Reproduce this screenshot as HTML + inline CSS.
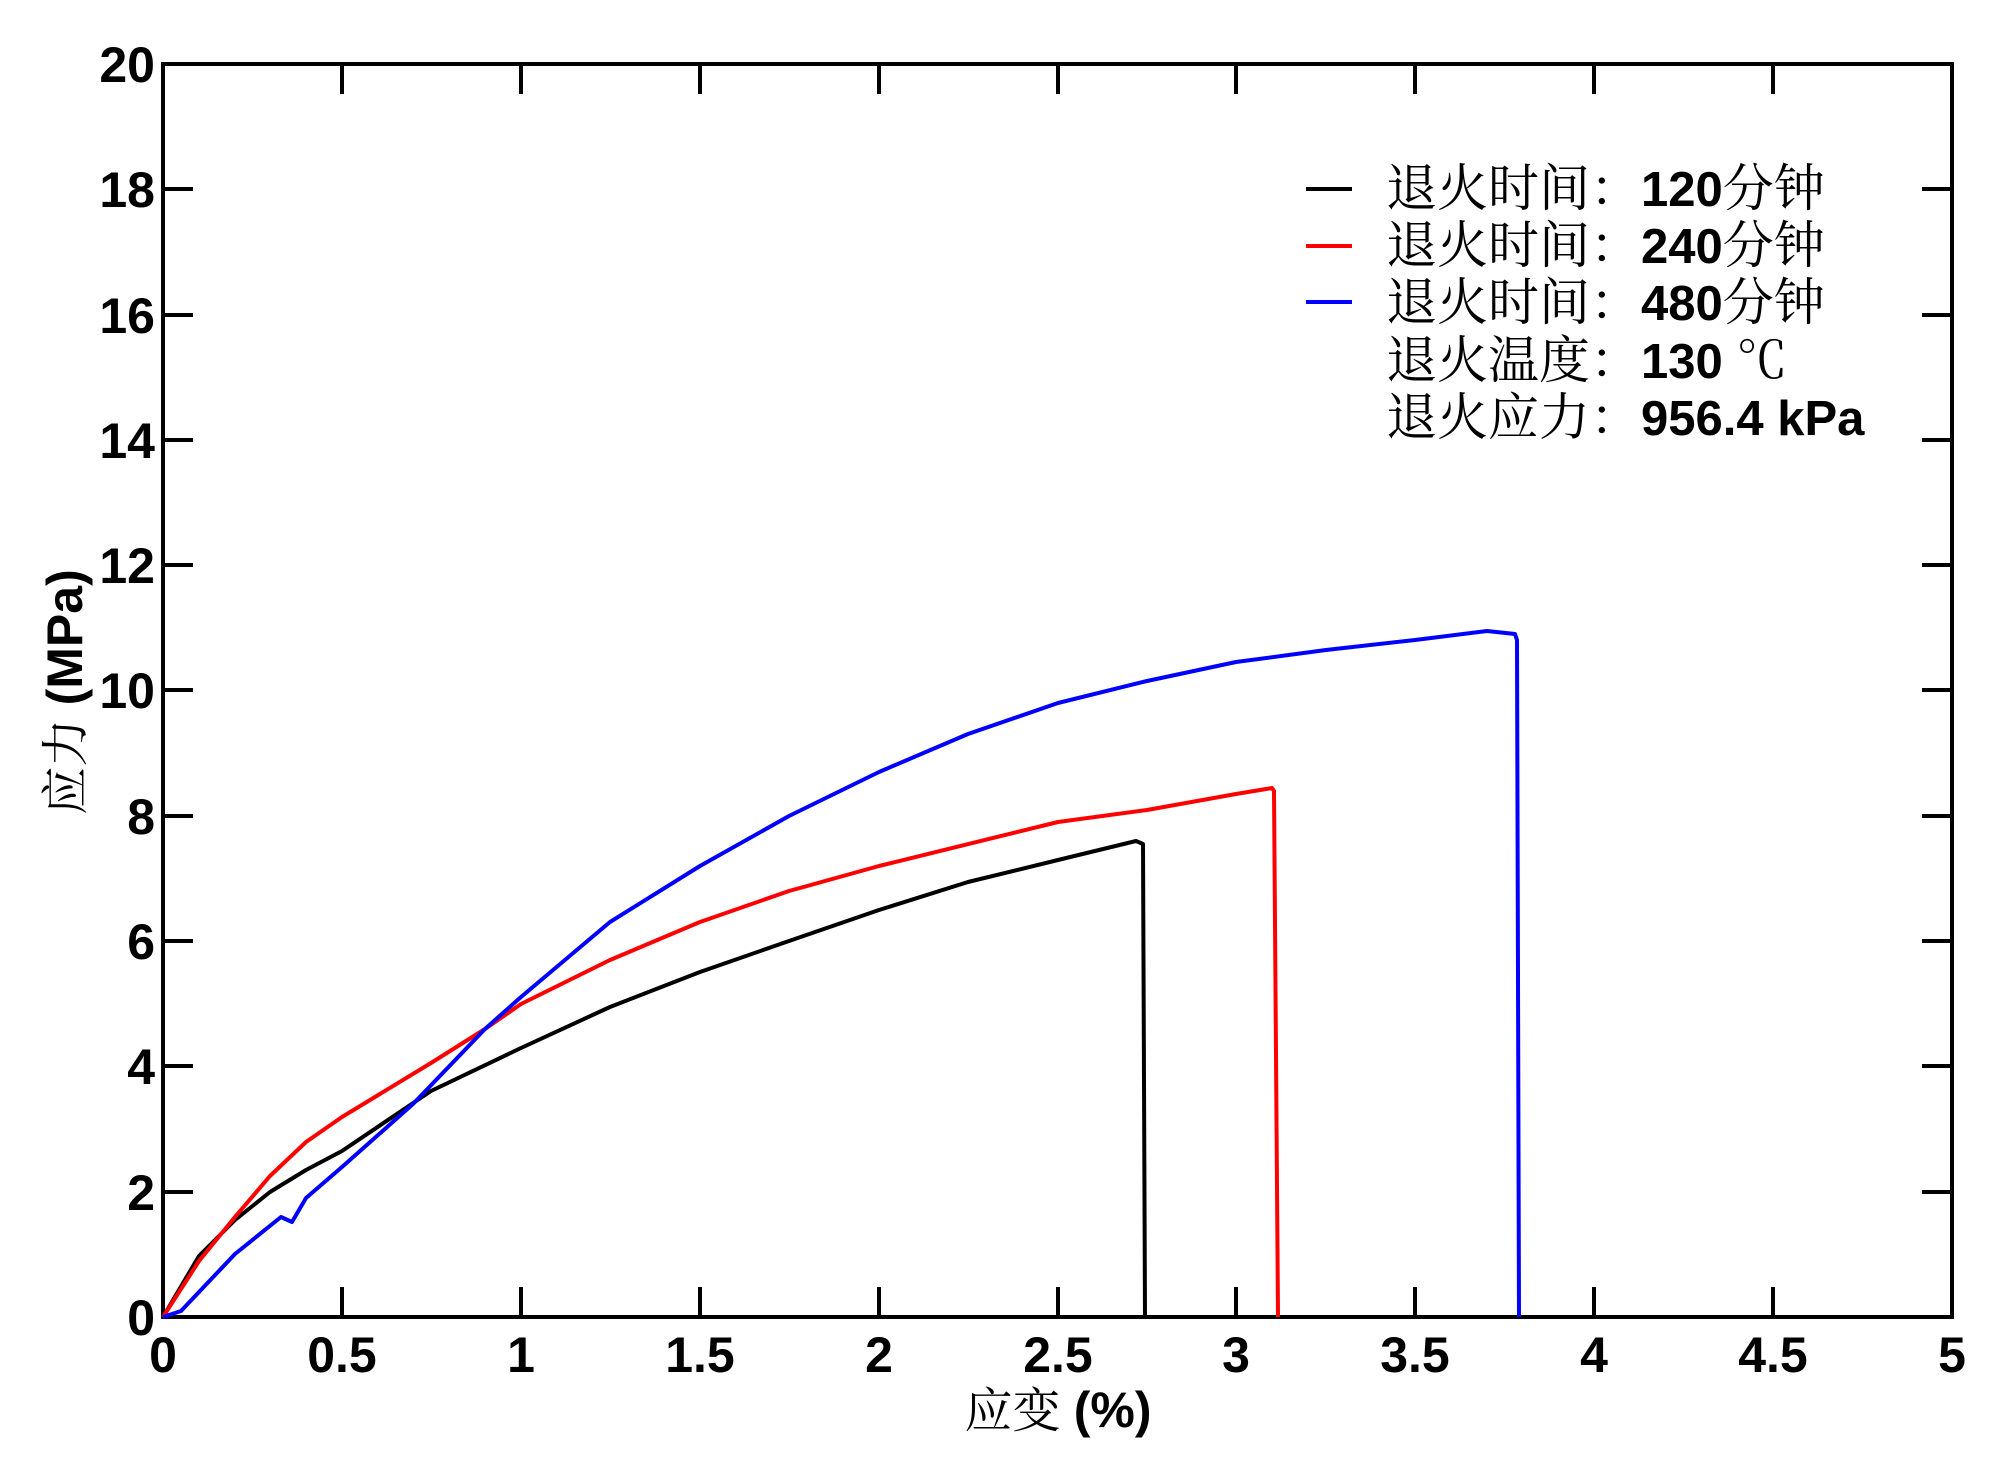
<!DOCTYPE html>
<html><head><meta charset="utf-8"><style>
html,body{margin:0;padding:0;background:#fff}
svg{display:block}
.t{font-family:"Liberation Sans",Arial,sans-serif;font-weight:bold;font-size:50px;fill:#000}
.c{font-family:"Liberation Sans","Noto Serif CJK SC","Noto Sans CJK SC",serif;font-size:48px;fill:#000}
.lc{font-family:"Liberation Sans","Noto Serif CJK SC","Noto Sans CJK SC",serif;font-size:51px;fill:#000}
.lt{font-family:"Liberation Sans",Arial,sans-serif;font-weight:bold;font-size:49px;fill:#000}
</style></head><body>
<svg width="2000" height="1469" viewBox="0 0 2000 1469" xmlns="http://www.w3.org/2000/svg">
<g stroke="#000" stroke-width="4" fill="none">
<rect x="163" y="64" width="1789" height="1253"/>
<path d="M342 1317v-30M521 1317v-30M700 1317v-30M879 1317v-30M1058 1317v-30M1236 1317v-30M1415 1317v-30M1594 1317v-30M1773 1317v-30
M342 64v30M521 64v30M700 64v30M879 64v30M1058 64v30M1236 64v30M1415 64v30M1594 64v30M1773 64v30"/>
<path d="M163 1192h30M163 1066h30M163 941h30M163 816h30M163 690h30M163 565h30M163 440h30M163 315h30M163 189h30
M1952 1192h-30M1952 1066h-30M1952 941h-30M1952 816h-30M1952 690h-30M1952 565h-30M1952 440h-30M1952 315h-30M1952 189h-30"/>
</g>
<g class="t" text-anchor="end">
<text x="155" y="1335">0</text><text x="155" y="1210">2</text><text x="155" y="1084">4</text>
<text x="155" y="959">6</text><text x="155" y="834">8</text><text x="155" y="708">10</text>
<text x="155" y="583">12</text><text x="155" y="458">14</text><text x="155" y="333">16</text>
<text x="155" y="207">18</text><text x="155" y="82">20</text>
</g>
<g class="t" text-anchor="middle">
<text x="163" y="1372">0</text><text x="342" y="1372">0.5</text><text x="521" y="1372">1</text>
<text x="700" y="1372">1.5</text><text x="879" y="1372">2</text><text x="1058" y="1372">2.5</text>
<text x="1236" y="1372">3</text><text x="1415" y="1372">3.5</text><text x="1594" y="1372">4</text>
<text x="1773" y="1372">4.5</text><text x="1952" y="1372">5</text>
</g>
<text x="1058" y="1427" text-anchor="middle"><tspan class="c">应变 </tspan><tspan class="t">(%)</tspan></text>
<text transform="translate(82,692) rotate(-90)" text-anchor="middle"><tspan class="c">应力 </tspan><tspan class="t">(MPa)</tspan></text>
<g fill="none" stroke-width="4" stroke-linejoin="round">
<polyline stroke="#000" points="163,1317 199,1256 235,1220 270,1192 306,1170 342,1151 431,1091 521,1048 610,1007 700,972 789,941 879,910 968,882 1058,860 1136,841 1143,844 1145,1317"/>
<polyline stroke="#f00" points="163,1317 199,1261 235,1217 270,1176 306,1142 342,1117 431,1063 485,1029 521,1004 610,960 700,922 789,891 879,866 1058,822 1147,810 1236,794 1272,788 1274,791 1278,1317"/>
<polyline stroke="#00f" points="163,1317 181,1311 235,1254 281,1217 292,1222 306,1198 342,1167 413,1104 485,1029 521,997 610,922 700,866 789,816 879,772 968,734 1058,703 1147,681 1236,662 1326,650 1415,640 1487,631 1515,634 1517,640 1519,1317"/>
</g>
<g stroke-width="4">
<line x1="1306" y1="189" x2="1352" y2="189" stroke="#000"/>
<line x1="1306" y1="246" x2="1352" y2="246" stroke="#f00"/>
<line x1="1306" y1="302" x2="1352" y2="302" stroke="#00f"/>
</g>
<g>
<text x="1386" y="206"><tspan class="lc">退火时间：</tspan><tspan class="lt">120</tspan><tspan class="lc">分钟</tspan></text>
<text x="1386" y="263"><tspan class="lc">退火时间：</tspan><tspan class="lt">240</tspan><tspan class="lc">分钟</tspan></text>
<text x="1386" y="320"><tspan class="lc">退火时间：</tspan><tspan class="lt">480</tspan><tspan class="lc">分钟</tspan></text>
<text x="1386" y="378"><tspan class="lc">退火温度：</tspan><tspan class="lt">130 </tspan><tspan class="lc">℃</tspan></text>
<text x="1386" y="435"><tspan class="lc">退火应力：</tspan><tspan class="lt">956.4 kPa</tspan></text>
</g>
</svg>
</body></html>
